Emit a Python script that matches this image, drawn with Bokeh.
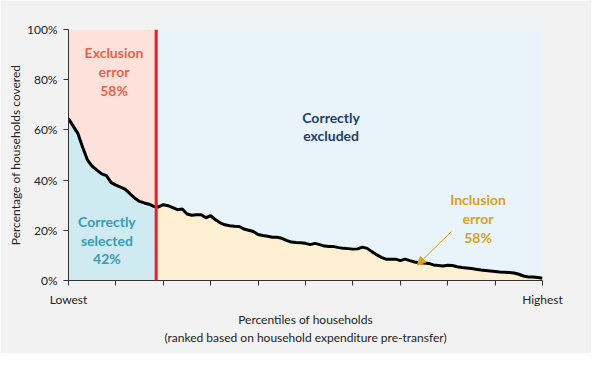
import numpy as np
from bokeh.plotting import figure
from bokeh.models import Range1d, FixedTicker, Span, Arrow, NormalHead
from bokeh.core.properties import value
from bokeh.embed import file_html
from bokeh.resources import INLINE

# ---- data ----
percentile = list(range(0, 101))
coverage = [64.5, 61.5, 58.5, 53.0, 48.0, 45.5, 44.0, 42.5, 41.8, 39.0,
            38.0, 37.2, 36.3, 34.5, 32.8, 31.5, 30.9, 30.4, 29.5, 29.3,
            30.2, 29.8, 29.0, 28.2, 28.5, 26.5, 26.0, 26.2, 26.2, 25.0,
            25.8, 24.2, 23.0, 22.2, 21.8, 21.6, 21.5, 20.5, 20.0, 19.5,
            18.3, 17.9, 17.6, 17.2, 17.2, 16.8, 16.0, 15.3, 15.1, 15.0,
            14.8, 14.3, 14.8, 14.3, 13.7, 13.5, 13.5, 13.1, 12.8, 12.7,
            12.5, 12.6, 13.3, 12.8, 11.5, 10.3, 9.2, 8.5, 8.5, 8.5,
            7.9, 8.5, 7.9, 7.4, 7.1, 7.0, 6.8, 6.2, 6.0, 5.8,
            6.1, 6.0, 5.5, 5.2, 5.0, 4.8, 4.5, 4.2, 4.0, 3.8,
            3.6, 3.4, 3.3, 3.2, 3.0, 2.5, 1.8, 1.4, 1.4, 1.2, 0.9]
cutoff = 18.5
y_ticks = [0, 20, 40, 60, 80, 100]
y_tick_labels = ["0%", "20%", "40%", "60%", "80%", "100%"]
x_ticks = list(range(0, 101, 10))
x_tick_labels = {0: "Lowest", 100: "Highest"}

labels = [
    dict(text="Exclusion\nerror\n58%", x=9.6, y=83.2, color="#e9634c"),
    dict(text="Correctly\nselected\n42%", x=8.1, y=16.1, color="#3b9bb0"),
    dict(text="Correctly\nexcluded", x=55.4, y=61.3, color="#1d3f6e"),
    dict(text="Inclusion\nerror\n58%", x=86.4, y=24.7, color="#d6a11e"),
]

# ---- split at cutoff ----
xs = np.array(percentile, dtype=float)
ys = np.array(coverage, dtype=float)
yc = float(np.interp(cutoff, xs, ys))
lx = np.concatenate([xs[xs < cutoff], [cutoff]])
ly = np.concatenate([ys[xs < cutoff], [yc]])
rx = np.concatenate([[cutoff], xs[xs > cutoff]])
ry = np.concatenate([[yc], ys[xs > cutoff]])

BG = "#f2f2f2"
FONT = "Lato"

p = figure(width=591, height=353, output_backend="svg", toolbar_location=None,
           x_range=Range1d(0, 100), y_range=Range1d(0, 100),
           min_border_left=68, min_border_right=49, min_border_top=29, min_border_bottom=73)
p.border_fill_color = BG
p.background_fill_color = BG
p.outline_line_color = None
p.grid.visible = False

p.varea(x=lx, y1=ly, y2=100, fill_color="#fde1db")
p.varea(x=lx, y1=0, y2=ly, fill_color="#cfeaf1")
p.varea(x=rx, y1=ry, y2=100, fill_color="#e8f3fa")
p.varea(x=rx, y1=0, y2=ry, fill_color="#fdefd2")

p.line(x=percentile, y=coverage, line_color="black", line_width=3)
p.add_layout(Span(location=cutoff, dimension="height", line_color="#ee1c25", line_width=3))

p.add_layout(Arrow(end=NormalHead(size=8, fill_color="#d6a11e", line_color="#d6a11e"),
                   x_start=80.8, y_start=19.5, x_end=73.6, y_end=6.2,
                   line_color="#d6a11e", line_width=1))

for lab in labels:
    p.text(x=[lab["x"]], y=[lab["y"]], text=[lab["text"]], text_color=lab["color"],
           text_font=value(FONT), text_font_style="bold", text_font_size="14px",
           text_align="center", text_baseline="middle", text_line_height=1.1)

# axes
ya = p.yaxis[0]
ya.ticker = FixedTicker(ticks=y_ticks)
ya.major_label_overrides = {t: l for t, l in zip(y_ticks, y_tick_labels)}
ya.axis_label = "Percentage of households covered"
xa = p.xaxis[0]
xa.ticker = FixedTicker(ticks=x_ticks)
xa.major_label_overrides = {t: x_tick_labels.get(t, "") for t in x_ticks}
xa.axis_label = "Percentiles of households\n(ranked based on household expenditure pre-transfer)"

for ax in (xa, ya):
    ax.axis_line_color = "#333333"
    ax.major_tick_line_color = "#333333"
    ax.minor_tick_line_color = None
    ax.major_tick_in = 0
    ax.major_tick_out = 5
    ax.major_label_text_font = FONT
    ax.major_label_text_font_size = "12px"
    ax.major_label_text_color = "#222222"
    ax.axis_label_text_font = FONT
    ax.axis_label_text_font_size = "12px"
    ax.axis_label_text_font_style = "normal"
    ax.axis_label_text_color = "#222222"
ya.major_label_standoff = 6
ya.axis_label_standoff = 1
xa.major_label_standoff = 6
xa.axis_label_standoff = 2

open("out.html", "w").write(file_html(p, INLINE))
